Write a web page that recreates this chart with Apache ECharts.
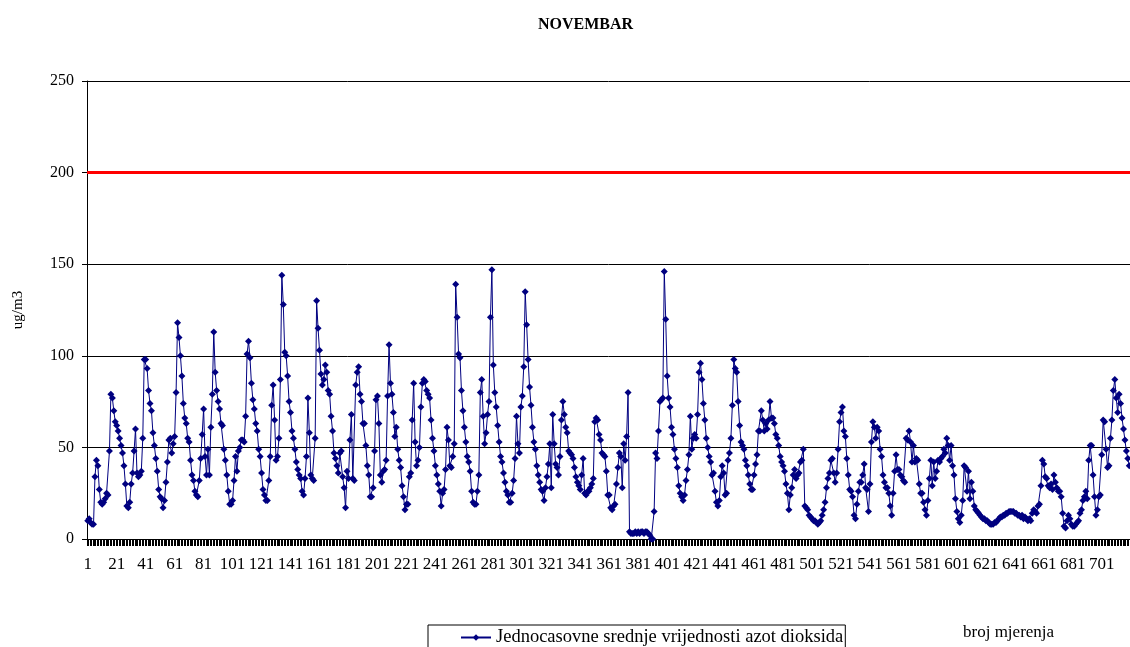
<!DOCTYPE html>
<html>
<head>
<meta charset="utf-8">
<script src="https://cdn.jsdelivr.net/npm/echarts@6/dist/echarts.min.js"></script>
<style>
  html, body { margin: 0; padding: 0; background: #fff; }
  #chart { width: 1130px; height: 647px; }
</style>
</head>
<body>
<div id="chart"></div>
<script>
// jednocasovne vrijednosti NO2 (ug/m3), po 10 dana
const days01to10 = [
  10, 11, 9, 8, 8, 34, 43, 40, 27, 20, 19, 20, 22, 25, 24, 48, 79, 77, 70, 64,
  62, 59, 55, 51, 47, 40, 30, 18, 17, 20, 30, 36, 48, 60, 36, 34, 35, 37, 55, 98,
  98, 93, 81, 74, 70, 58, 51, 44, 37, 27, 23, 22, 17, 21, 31, 42, 54, 55, 47, 52,
  56, 80, 118, 110, 100, 89, 74, 66, 63, 55, 53, 43, 35, 32, 26, 24, 23, 32, 44, 57,
  71, 45, 35, 49, 35, 61, 79, 113, 91, 81, 75, 71, 63, 62, 49, 43, 35, 26, 19, 19,
  21, 32, 45, 37, 48, 50, 54, 54, 53, 67, 101, 108, 99, 85, 76, 71, 63, 59, 49, 45,
  36, 27, 24, 21, 21, 32, 45, 73, 84, 65, 43, 45, 55, 87, 144, 128, 102, 100, 89, 75,
  69, 59, 55, 49, 42, 38, 35, 33, 26, 24, 33, 45, 77, 58, 35, 33, 32, 55, 130, 115,
  103, 90, 84, 87, 95, 91, 81, 79, 67, 59, 47, 44, 40, 36, 47, 48, 34, 28, 17, 37,
  33, 54, 68, 33, 32, 84, 91, 94, 79, 75, 63, 63, 51, 40, 35, 23, 23, 28, 48, 76,
  78, 63, 35, 31, 37, 38, 43, 78, 106, 85, 79, 69, 56, 61, 49, 43, 39, 29, 23, 16,
  19, 19, 34, 36, 65, 85, 53, 40, 43, 50, 72, 85, 87, 86, 81, 79, 77, 65, 55, 48
];
const days11to20 = [
  40, 35, 30, 26, 18, 25, 27, 38, 61, 54, 40, 39, 45, 52, 139, 121, 101, 99, 81, 70,
  61, 53, 45, 42, 37, 26, 20, 19, 19, 26, 35, 80, 87, 67, 52, 58, 68, 75, 121, 147,
  95, 80, 72, 62, 53, 45, 42, 36, 31, 26, 24, 20, 20, 25, 32, 44, 67, 52, 47, 72,
  78, 94, 135, 117, 98, 83, 73, 61, 53, 49, 40, 35, 31, 27, 26, 21, 28, 34, 41, 52,
  28, 68, 52, 41, 39, 35, 45, 65, 75, 68, 61, 58, 48, 47, 46, 44, 39, 34, 31, 29,
  27, 35, 44, 25, 24, 26, 26, 28, 30, 33, 64, 66, 65, 57, 54, 47, 46, 45, 37, 24,
  24, 17, 16, 18, 19, 30, 39, 47, 45, 28, 52, 43, 56, 80, 4, 3, 3, 3, 4, 3,
  4, 3, 4, 4, 3, 4, 4, 3, 2, 0, 0, 15, 47, 44, 59, 75, 76, 77, 146, 120,
  89, 77, 72, 61, 57, 49, 44, 39, 29, 25, 23, 21, 24, 32, 38, 46, 67, 49, 55, 57,
  55, 68, 91, 96, 87, 74, 65, 55, 50, 45, 42, 35, 36, 26, 20, 18, 21, 34, 40, 36,
  24, 25, 43, 47, 55, 73, 98, 93, 91, 75, 62, 53, 51, 49, 43, 40, 35, 30, 27, 27,
  35, 41, 46, 59, 59, 70, 65, 59, 63, 60, 65, 75, 66, 66, 63, 57, 55, 51, 45, 42
];
const days21to30 = [
  40, 37, 30, 25, 16, 24, 28, 35, 38, 33, 35, 36, 42, 43, 49, 18, 17, 16, 13, 12,
  11, 10, 10, 9, 8, 9, 10, 13, 16, 20, 28, 33, 36, 43, 44, 36, 31, 36, 49, 64,
  69, 72, 59, 56, 44, 35, 27, 26, 23, 13, 11, 19, 26, 31, 31, 35, 41, 28, 27, 15,
  30, 53, 64, 61, 55, 61, 59, 49, 45, 35, 31, 28, 28, 25, 18, 13, 25, 37, 46, 38,
  38, 35, 34, 32, 31, 55, 54, 59, 53, 42, 51, 42, 44, 43, 30, 25, 25, 20, 16, 13,
  21, 33, 43, 29, 42, 33, 37, 43, 42, 44, 45, 49, 47, 55, 51, 43, 51, 40, 35, 22,
  15, 11, 9, 13, 21, 40, 39, 26, 37, 22, 31, 26, 18, 16, 15, 14, 13, 12, 11, 11,
  10, 10, 9, 8, 8, 8, 9, 9, 10, 11, 12, 12, 13, 13, 14, 14, 15, 15, 15, 15,
  14, 14, 13, 13, 12, 13, 11, 12, 11, 10, 11, 10, 14, 16, 15, 14, 18, 19, 29, 43,
  41, 34, 33, 29, 28, 30, 27, 35, 31, 28, 26, 26, 23, 14, 7, 6, 10, 13, 11, 8,
  7, 7, 8, 9, 10, 14, 16, 21, 23, 26, 22, 43, 51, 51, 35, 23, 13, 16, 23, 24,
  46, 65, 64, 49, 39, 40, 55, 65, 81, 87, 77, 69, 79, 74, 66, 60, 54, 48, 44, 40
];

const limitValue = 200;       // granicna vrijednost
const yTicks = [0, 50, 100, 150, 200, 250];

const values = days01to10.concat(days11to20, days21to30);
// broj mjerenja 1..720
const measureNo = values.map((v, i) => String(i + 1));

const serif = 'Liberation Serif, Times New Roman, serif';

const myChart = echarts.init(document.getElementById('chart'));
const option = {
  animation: false,
  title: {
    text: 'NOVEMBAR',
    left: 533,
    top: 12,
    textStyle: { fontFamily: serif, fontSize: 16, fontWeight: 'bold', color: '#000' }
  },
  legend: {
    left: 428,
    top: 625,
    padding: [3, 2, 8, 32],
    borderColor: '#000',
    borderWidth: 1,
    itemWidth: 30,
    itemHeight: 8,
    textStyle: { fontFamily: serif, fontSize: 18.5, color: '#000' },
    data: ['Jednocasovne srednje vrijednosti azot dioksida']
  },
  graphic: [{
    type: 'text',
    left: 963,
    top: 624,
    style: { text: 'broj mjerenja', font: '17px ' + serif, fill: '#000' }
  }],
  grid: { left: 87, right: -11, top: 81, bottom: 108 },
  xAxis: {
    type: 'category',
    data: measureNo,
    boundaryGap: true,
    axisLine: { lineStyle: { color: '#000', width: 1 } },
    axisTick: { show: true, interval: 0, length: 7, lineStyle: { color: '#000' } },
    axisLabel: { interval: 19, margin: 17, fontFamily: serif, fontSize: 17, color: '#000' },
    splitLine: { show: false }
  },
  yAxis: {
    type: 'value',
    min: yTicks[0],
    max: yTicks[yTicks.length - 1],
    interval: 50,
    name: 'ug/m3',
    nameLocation: 'middle',
    nameGap: 61,
    nameRotate: 90,
    nameTextStyle: { fontFamily: serif, fontSize: 15, color: '#000' },
    axisLine: { show: true, lineStyle: { color: '#000' } },
    axisTick: { show: true, length: 5, lineStyle: { color: '#000' } },
    axisLabel: { margin: 13, fontFamily: serif, fontSize: 16, color: '#000' },
    splitLine: { lineStyle: { color: '#000', width: 1 } }
  },
  series: [{
    name: 'Jednocasovne srednje vrijednosti azot dioksida',
    type: 'line',
    data: values,
    symbol: 'diamond',
    symbolSize: 7,
    showAllSymbol: true,
    itemStyle: { color: '#000080' },
    lineStyle: { color: '#000080', width: 1 },
    markLine: {
      silent: true,
      symbol: 'none',
      label: { show: false },
      lineStyle: { color: '#ff0000', width: 3, type: 'solid' },
      data: [{ yAxis: limitValue }]
    }
  }]
};
myChart.setOption(option);
</script>
</body>
</html>
